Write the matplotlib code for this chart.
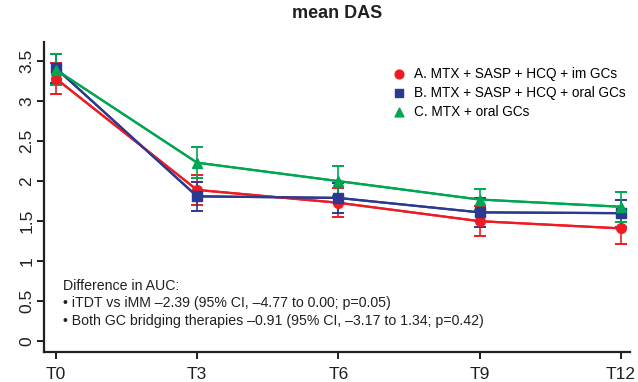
import matplotlib
matplotlib.use("Agg")
import matplotlib.pyplot as plt

plt.rcParams["font.family"] = ["Liberation Sans", "DejaVu Sans"]

months = [0, 3, 6, 9, 12]
tick_labels = ["T0", "T3", "T6", "T9", "T12"]

mean_a = [3.28, 1.89, 1.73, 1.50, 1.41]
err_a = [0.19, 0.19, 0.18, 0.19, 0.19]
mean_b = [3.41, 1.81, 1.79, 1.61, 1.60]
err_b = [0.18, 0.18, 0.19, 0.18, 0.17]
mean_c = [3.39, 2.23, 2.00, 1.77, 1.68]
err_c = [0.19, 0.19, 0.19, 0.13, 0.19]

labels = ["A. MTX + SASP + HCQ + im GCs",
          "B. MTX + SASP + HCQ + oral GCs",
          "C. MTX + oral GCs"]
RED, BLUE, GREEN = "#ED1C24", "#2B3990", "#00A651"

fig = plt.figure(figsize=(6.38, 3.82), dpi=100)
ax = fig.add_axes([0.069, 0.079, 0.918, 0.812])

series = [(mean_a, err_a, RED, "o"), (mean_b, err_b, BLUE, "s"), (mean_c, err_c, GREEN, "^")]
handles = []
for (m, e, c, mk), lab in zip(series, labels):
    ax.errorbar(months, m, yerr=e, color=c, lw=1.6, elinewidth=1.2, capsize=4,
                capthick=1.4, zorder=2)
    ax.plot(months, m, color=c, marker=mk, ms=7, lw=1.6, zorder=3)
    handles.append(ax.scatter([], [], marker=mk, color=c, s=40, label=lab))

ax.legend(handles=handles, loc="upper right", bbox_to_anchor=(1.01, 0.95), frameon=False,
          fontsize=9.8, handletextpad=0.15, labelspacing=0.38, borderpad=0.2, scatterpoints=1)

ax.set_xlim(-0.25, 12.19)
ax.set_ylim(-0.13, 3.74)
ax.set_xticks(months)
ax.set_xticklabels(tick_labels, fontsize=12.5)
ax.set_yticks([0, 0.5, 1, 1.5, 2, 2.5, 3, 3.5])
ax.set_yticklabels(["0", "0.5", "1", "1.5", "2", "2.5", "3", "3.5"], rotation=90,
                   va="center", fontsize=12.5)
for s in ["top", "right"]:
    ax.spines[s].set_visible(False)
for s in ["left", "bottom"]:
    ax.spines[s].set_linewidth(1.6)
    ax.spines[s].set_color("#231F20")
ax.tick_params(direction="out", length=5, width=1.4, colors="#231F20")
ax.tick_params(axis="x", pad=6)
ax.tick_params(axis="y", pad=2)

ax.set_title("mean DAS", fontsize=13, fontweight="bold", color="#231F20", pad=17)

note = ("Difference in AUC:\n"
        "\u2022 iTDT vs iMM \u20132.39 (95% CI, \u20134.77 to 0.00; p=0.05)\n"
        "\u2022 Both GC bridging therapies \u20130.91 (95% CI, \u20133.17 to 1.34; p=0.42)")
ax.text(0.032, 0.076, note, transform=ax.transAxes, fontsize=10.2, color="#231F20",
        va="bottom", ha="left", linespacing=1.35)

fig.savefig("out.png", dpi=100)
